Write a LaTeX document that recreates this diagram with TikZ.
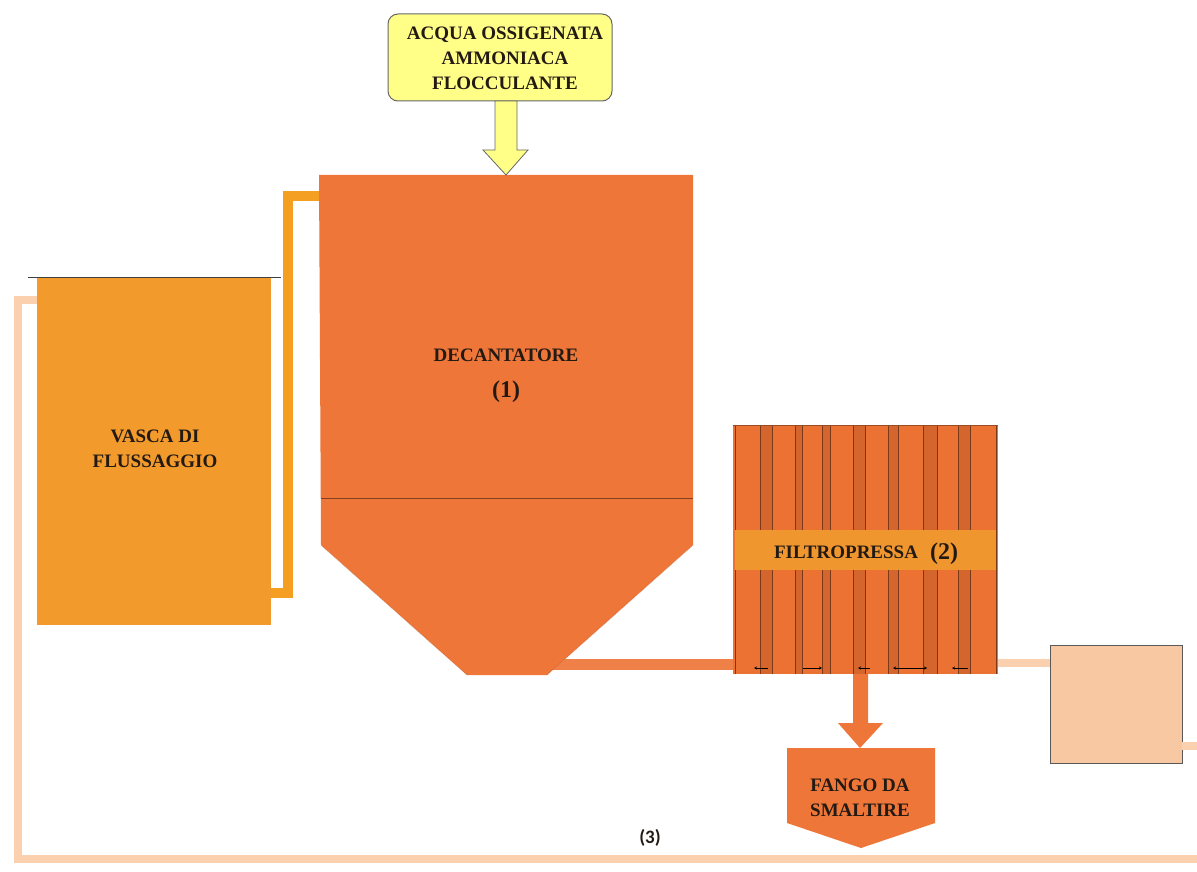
\documentclass[tikz,border=0pt]{standalone}
\usepackage{fontspec}
\setmainfont{Liberation Serif}
\newfontfamily\calib{Carlito}
\usetikzlibrary{arrows.meta,calc}
\definecolor{decor}{HTML}{EE7638}
\definecolor{fpor}{HTML}{EC7234}
\definecolor{fpstripe}{HTML}{D4652C}
\definecolor{fpline}{HTML}{7A3A1A}
\definecolor{fpband}{HTML}{F0962F}
\definecolor{vascaor}{HTML}{F29A2C}
\definecolor{pipeor}{HTML}{F49E22}
\definecolor{yel}{HTML}{FFFF88}
\definecolor{peach}{HTML}{F8C8A2}
\definecolor{retpipe}{HTML}{FBD0AE}
\definecolor{txt}{HTML}{241a14}
\begin{document}
\begin{tikzpicture}[x=1pt,y=-1pt,
  lbl/.style={font=\fontsize{19}{25}\selectfont\bfseries, text=txt, align=center, inner sep=0pt},
  big/.style={font=\fontsize{24}{26}\selectfont\bfseries},
  retp/.style={line width=8pt, draw=retpipe},
  pipeA/.style={line width=10pt, draw=pipeor},
  pipeB/.style={line width=11pt, draw=decor!92!white},
  box/.style={anchor=north west, inner sep=0pt, outer sep=0pt}]
\useasboundingbox (0,0) rectangle (1197,872);
\fill[white] (0,0) rectangle (1197,872);

% ---- main nodes (geometry holders)
\node[box, minimum width=234, minimum height=348, fill=vascaor] (vasca) at (37,277) {};
\node[box, minimum width=374, minimum height=370] (dec) at (319,175) {};
\node[box, minimum width=265, minimum height=249, fill=fpor] (fp) at (733,425) {};
\node[box, minimum width=132, minimum height=118, fill=peach, draw=gray!70!black, line width=0.8pt] (tank) at (1050,645) {};
\node[box, minimum width=224, minimum height=87, fill=yel, draw=gray!80!black, line width=1pt, rounded corners=10pt] (add) at (388,14) {};

% ---- return pipe (3)
\coordinate (rA) at (18,300);
\coordinate (rB) at (18,859);
\coordinate (rC) at (1197,859);
\coordinate (rD) at (1197,746);
\draw[retp] (vasca.north west |- rA) -- (rA) -- (rB) -- (rC);
\draw[retp] (tank.east |- rD) -- (rD);
\draw[retp] (fp.east |- 0,663) -- (tank.west |- 0,663);

% ---- pipe vasca -> decanter
\coordinate (pA1) at (288,593);
\coordinate (pA2) at (288,196);
\draw[pipeA] (vasca.east |- pA1) -- (pA1) -- (pA2) -- (dec.west |- pA2);

% ---- pipe decanter -> filtropressa
\coordinate (pB) at (548,664);
\draw[pipeB] (pB) -- (fp.west |- pB);

% ---- vasca top rim
\draw[line width=1pt, gray!50!black] (28,277) -- (281,277);

% ---- decanter shape
\fill[decor] (319,175) -- (693,175) -- (693,545) -- (547,675) -- (467,675) -- (321,545) -- cycle;
\draw[line width=0.5pt, decor!70!black, densely dotted] (321,545) -- (467,675);
\draw[line width=0.5pt, decor!70!black, densely dotted] (693,545) -- (547,675);
\draw[line width=1pt, decor!55!black] (321,498) -- (693,498);
\node[lbl, anchor=base] (declbl) at (506,361) {DECANTATORE};
\node[lbl, big, anchor=base] (decnum) at (506,397) {(1)};

% ---- filtropressa stripes
\foreach \a/\b in {760/772, 795/802, 822/830, 853/865, 888/898, 923/937, 958/970} {
  \fill[fpstripe] (\a,425) rectangle (\b,674);
  \draw[fpline, line width=0.7pt] (\a,425) -- (\a,674);
  \draw[fpline, line width=0.7pt] (\b,425) -- (\b,674);
}
\draw[fpline, line width=0.8pt] (735,425) -- (735,674);
\draw[fpline, line width=0.8pt] (996,425) -- (996,674);
\draw[fpline!70!fpor, line width=0.6pt] (733,425) -- (998,425);
\fill[fpband] (735,530) rectangle (996,570);
\node[lbl, anchor=base] (fplbl) at (846,558) {FILTROPRESSA};
\node[lbl, big, anchor=base] (fpnum) at (944,559) {(2)};
% small arrows at bottom
\begin{scope}[line width=0.6pt, black]
  \draw[-{Stealth[length=3pt,width=3pt]}] (768,668) -- (754,668);
  \draw[-{Stealth[length=3pt,width=3pt]}] (803,668) -- (822,668);
  \draw[-{Stealth[length=3pt,width=3pt]}] (870,668) -- (858,668);
  \draw[{Stealth[length=3pt,width=3pt]}-{Stealth[length=3pt,width=3pt]}] (893,668) -- (927,668);
  \draw[-{Stealth[length=3pt,width=3pt]}] (968,668) -- (952,668);
\end{scope}

% ---- additives box and arrow
\node[lbl] (addlbl) at (505,58) {ACQUA OSSIGENATA\\AMMONIACA\\FLOCCULANTE};
\coordinate (yA) at (506,175);
\filldraw[fill=yel, draw=gray!80!black, line width=0.8pt]
  (495,101) -- (517,101) -- (517,150) -- (528,150) -- (yA) -- (483,150) -- (495,150) -- cycle;

% ---- fango arrow and box
\coordinate (fA) at (860,748);
\fill[decor] (853,674) -- (868,674) -- (868,723) -- (883,723) -- (fA) -- (838,723) -- (853,723) -- cycle;
\fill[decor] (787,748) -- (935,748) -- (935,823) -- (861,848) -- (787,823) -- cycle;
\node[lbl] (fango) at (860,798) {FANGO DA\\SMALTIRE};

% ---- vasca label
\node[lbl] (vascalbl) at (155,449) {VASCA DI\\FLUSSAGGIO};

% ---- label (3)
\node[font=\calib\bfseries\fontsize{19}{22}\selectfont, text=txt] (three) at (650,838) {(3)};
\end{tikzpicture}
\end{document}
